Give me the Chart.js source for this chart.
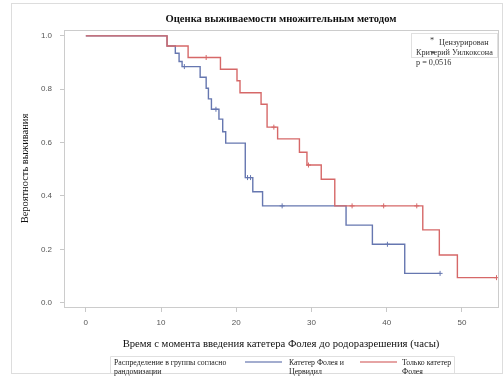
<!DOCTYPE html>
<html>
<head>
<meta charset="utf-8">
<script src="https://cdn.jsdelivr.net/npm/chart.js@4.4.1/dist/chart.umd.min.js"></script>
<style>
html, body { margin: 0; padding: 0; background: #fff; }
#wrap { width: 503px; height: 378px; }
</style>
</head>
<body>
<div id="wrap"><canvas id="myChart"></canvas></div>
<script>
// tick labels
const xTicks = [0, 10, 20, 30, 40, 50];
const yTicks = [0, 0.2, 0.4, 0.6, 0.8, 1.0];

// Катетер Фолея и Цервидил
const blueTimes = [0, 10.8, 11.9, 12.4, 12.8, 15.2, 16.0, 16.3, 16.7, 17.7, 18.2, 18.6, 21.2, 22.2, 23.5, 34.6, 38.1, 42.4, 47.1];
const blueSurv  = [1.0, 0.962, 0.935, 0.904, 0.885, 0.845, 0.804, 0.764, 0.725, 0.688, 0.641, 0.598, 0.469, 0.416, 0.363, 0.291, 0.219, 0.110, 0.110];
const blueCensTimes = [13.1, 17.3, 21.5, 21.9, 26.1, 40.1, 47.1];
const blueCensSurv  = [0.885, 0.725, 0.469, 0.469, 0.363, 0.219, 0.110];

// Только катетер Фолея
const redTimes = [0, 10.8, 13.6, 17.9, 20.1, 20.5, 23.3, 24.1, 25.5, 28.4, 29.4, 31.3, 33.1, 44.8, 47.0, 49.4, 54.6];
const redSurv  = [1.0, 0.962, 0.919, 0.875, 0.832, 0.787, 0.744, 0.658, 0.614, 0.564, 0.516, 0.463, 0.363, 0.273, 0.179, 0.094, 0.094];
const redCensTimes = [16.0, 25.0, 29.6, 35.4, 39.6, 44.0, 54.6];
const redCensSurv  = [0.919, 0.658, 0.516, 0.363, 0.363, 0.363, 0.094];

const blue = '#6677b0';
const red  = '#d66868';
const serif = '"Liberation Serif", "DejaVu Serif", serif';
const sans  = '"Liberation Sans", Arial, sans-serif';

function pts(xs, ys) {
    return xs.map((x, i) => ({ x: x, y: ys[i] }));
}

const extras = {
    id: 'extras',
    beforeDraw(chart) {
        const c = chart.ctx;
        const a = chart.chartArea;
        c.save();
        c.strokeStyle = '#dddddd';
        c.lineWidth = 1;
        c.strokeRect(11.5, 3.5, 491, 370);
        c.strokeStyle = '#cccccc';
        c.strokeRect(Math.round(a.left) + 0.5, Math.round(a.top) + 0.5, Math.round(a.right - a.left), Math.round(a.bottom - a.top));
        c.restore();
    },
    afterDraw(chart) {
        const c = chart.ctx;
        const ds = chart.data.datasets;
        c.save();
        // inset legend
        c.strokeStyle = '#e0e0e0';
        c.strokeRect(411.5, 33.5, 86, 24);
        c.fillStyle = '#333';
        c.font = '8.2px ' + serif;
        c.textBaseline = 'middle';
        c.textAlign = 'center';
        c.fillText('*', 432, 41);
        c.textAlign = 'left';
        c.fillText('Цензурирован', 439, 43);
        c.fillText('Критерий Уилкоксона', 416, 53);
        c.fillText('p = 0,0516', 416, 62.5);
        c.fillStyle = '#555';
        c.fillRect(431, 51.5, 4, 2);
        // bottom legend
        c.strokeStyle = '#e0e0e0';
        c.beginPath();
        c.moveTo(110.5, 373);
        c.lineTo(110.5, 356.5);
        c.lineTo(454.5, 356.5);
        c.lineTo(454.5, 373);
        c.stroke();
        c.font = '7.8px ' + serif;
        c.fillStyle = '#222';
        c.fillText('Распределение в группы согласно', 114, 363);
        c.fillText('рандомизации', 114, 372);
        const items = [
            { ds: ds[1], x0: 245, x1: 282, tx: 289, l1: 'Катетер Фолея и', l2: 'Цервидил' },
            { ds: ds[0], x0: 360, x1: 397, tx: 402, l1: 'Только катетер', l2: 'Фолея' }
        ];
        items.forEach(it => {
            c.strokeStyle = it.ds.borderColor;
            c.globalAlpha = 0.8;
            c.lineWidth = 1.5;
            c.beginPath();
            c.moveTo(it.x0, 362);
            c.lineTo(it.x1, 362);
            c.stroke();
            c.globalAlpha = 1;
            c.fillText(it.l1, it.tx, 363);
            c.fillText(it.l2, it.tx, 372);
        });
        c.restore();
    }
};

new Chart(document.getElementById('myChart'), {
    type: 'line',
    data: {
        datasets: [
            {
                label: 'Только катетер Фолея',
                data: pts(redTimes, redSurv),
                borderColor: red,
                borderWidth: 1.4,
                pointRadius: 0,
                stepped: 'before',
                fill: false,
                order: 1
            },
            {
                label: 'Катетер Фолея и Цервидил',
                data: pts(blueTimes, blueSurv),
                borderColor: blue,
                borderWidth: 1.4,
                pointRadius: 0,
                stepped: 'before',
                fill: false,
                order: 2
            },
            {
                label: 'Цензурирован (1)',
                data: pts(redCensTimes, redCensSurv),
                showLine: false,
                pointStyle: 'cross',
                pointRadius: 2.5,
                borderColor: red,
                borderWidth: 1,
                order: 0
            },
            {
                label: 'Цензурирован (2)',
                data: pts(blueCensTimes, blueCensSurv),
                showLine: false,
                pointStyle: 'cross',
                pointRadius: 2.5,
                borderColor: blue,
                borderWidth: 1,
                order: 0
            }
        ]
    },
    options: {
        responsive: true,
        maintainAspectRatio: false,
        animation: false,
        layout: { padding: { left: 0, right: 5, top: 0, bottom: 0 } },
        plugins: {
            legend: { display: false },
            tooltip: { enabled: false },
            title: {
                display: true,
                fullSize: false,
                text: 'Оценка выживаемости множительным методом',
                color: '#111',
                font: { family: serif, size: 10.6, weight: 'bold' },
                padding: { top: 13, bottom: 4.3 }
            }
        },
        scales: {
            x: {
                type: 'linear',
                min: -2.9,
                max: 54.8,
                afterBuildTicks: s => { s.ticks = xTicks.map(v => ({ value: v })); },
                afterFit: s => { s.height = 71; },
                grid: { drawOnChartArea: false, drawTicks: true, tickLength: 5, color: '#c8c8c8' },
                border: { display: false },
                ticks: { color: '#555', font: { family: sans, size: 8 }, padding: 6, maxRotation: 0 },
                title: {
                    display: true,
                    text: 'Время с момента введения катетера Фолея до родоразрешения (часы)',
                    color: '#111',
                    font: { family: serif, size: 10.7 },
                    padding: { top: 0, bottom: 27.5 }
                }
            },
            y: {
                type: 'linear',
                min: -0.016,
                max: 1.022,
                afterBuildTicks: s => { s.ticks = yTicks.map(v => ({ value: v })); },
                afterFit: s => { s.width = 64; },
                grid: { drawOnChartArea: false, drawTicks: true, tickLength: 4, color: '#c8c8c8' },
                border: { display: false },
                ticks: { color: '#555', font: { family: sans, size: 8 }, padding: 8, callback: v => v.toFixed(1) },
                title: {
                    display: true,
                    text: 'Вероятность выживания',
                    color: '#111',
                    font: { family: serif, size: 10.5 },
                    padding: { top: 19, bottom: 0 }
                }
            }
        }
    },
    plugins: [extras]
});
</script>
</body>
</html>
